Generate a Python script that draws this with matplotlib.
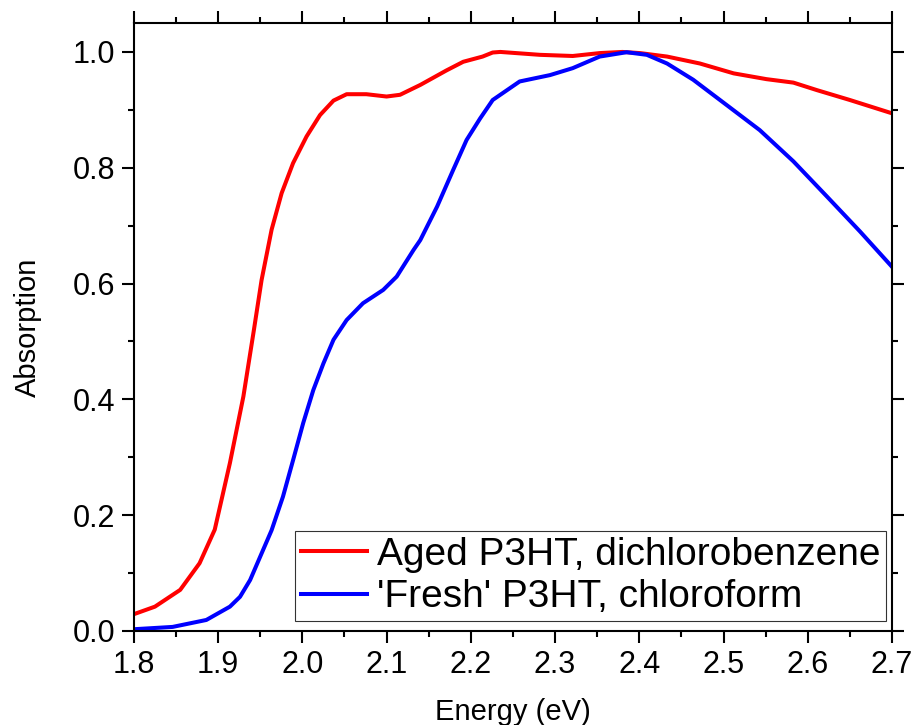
import numpy as np
import matplotlib
matplotlib.use('Agg')
import matplotlib.pyplot as plt
from matplotlib.ticker import MultipleLocator

plt.rcParams['font.family'] = ['Liberation Sans', 'DejaVu Sans']

# aged P3HT in dichlorobenzene
red_e = [1.80, 1.825, 1.855, 1.878, 1.896, 1.914, 1.930, 1.9425, 1.9516, 1.9635,
         1.9754, 1.989, 2.005, 2.021, 2.037, 2.0526, 2.076, 2.100, 2.116, 2.140,
         2.171, 2.191, 2.214, 2.226, 2.235, 2.282, 2.321, 2.353, 2.380, 2.401,
         2.433, 2.472, 2.512, 2.551, 2.583, 2.611, 2.650, 2.700]
red_a = [0.029, 0.042, 0.071, 0.117, 0.175, 0.29, 0.405, 0.52, 0.606, 0.693,
         0.756, 0.808, 0.854, 0.891, 0.916, 0.927, 0.927, 0.923, 0.926, 0.943,
         0.968, 0.983, 0.992, 0.999, 1.0, 0.995, 0.993, 0.998, 1.0, 0.998,
         0.992, 0.980, 0.963, 0.953, 0.947, 0.934, 0.917, 0.894]

# 'fresh' P3HT in chloroform
blue_e = [1.80, 1.846, 1.886, 1.914, 1.926, 1.938, 1.9635, 1.977, 1.989, 2.001,
          2.013, 2.025, 2.037, 2.0526, 2.072, 2.096, 2.112, 2.132, 2.140, 2.160,
          2.179, 2.195, 2.211, 2.226, 2.235, 2.258, 2.294, 2.321, 2.353, 2.385,
          2.409, 2.433, 2.464, 2.504, 2.543, 2.583, 2.623, 2.662, 2.700]
blue_a = [0.003, 0.007, 0.019, 0.042, 0.059, 0.088, 0.174, 0.232, 0.295, 0.359,
          0.416, 0.462, 0.503, 0.537, 0.566, 0.589, 0.612, 0.658, 0.675, 0.733,
          0.796, 0.848, 0.885, 0.917, 0.926, 0.949, 0.960, 0.972, 0.992, 0.9995,
          0.995, 0.980, 0.952, 0.908, 0.865, 0.811, 0.750, 0.690, 0.629]

labels = ['Aged P3HT, dichlorobenzene', "'Fresh' P3HT, chloroform"]

fig = plt.figure(figsize=(9.17, 7.25), dpi=100)
ax = fig.add_axes([0.146, 0.1297, 0.8267, 0.8386])

ax.plot(red_e, red_a, color='#ff0000', lw=2.9, label=labels[0])
ax.plot(blue_e, blue_a, color='#0000ff', lw=2.9, label=labels[1])

ax.set_xlim(1.8, 2.7)
ax.set_ylim(0, 1.05)
ax.xaxis.set_major_locator(MultipleLocator(0.1))
ax.xaxis.set_minor_locator(MultipleLocator(0.05))
ax.yaxis.set_major_locator(MultipleLocator(0.2))
ax.yaxis.set_minor_locator(MultipleLocator(0.1))
ax.xaxis.set_major_formatter(lambda v, p: '%.1f' % v)
ax.yaxis.set_major_formatter(lambda v, p: '%.1f' % v)

for s in ax.spines.values():
    s.set_linewidth(1.5)
ax.tick_params(which='both', direction='out', top=True, right=True, width=1.5, labelsize=22)
ax.tick_params(which='major', length=8.5, pad=5)
ax.tick_params(which='minor', length=4.3)

ax.set_xlabel('Energy (eV)', fontsize=21, labelpad=13)
ax.set_ylabel('Absorption', fontsize=21, labelpad=22)

leg = ax.legend(loc='lower right', bbox_to_anchor=(0.992, 0.0164), borderaxespad=0,
                fontsize=28, frameon=True, fancybox=False, handlelength=1.7,
                handletextpad=0.25, borderpad=0.15, labelspacing=0.17)
leg.get_frame().set_edgecolor('black')
leg.get_frame().set_linewidth(0.8)

plt.savefig('out.png', dpi=100)
